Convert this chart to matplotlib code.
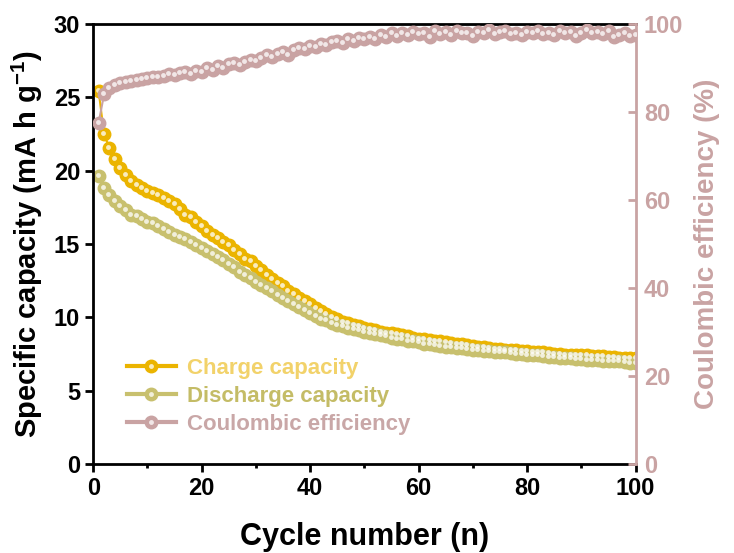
import numpy as np
import matplotlib
matplotlib.use('Agg')
import matplotlib.pyplot as plt
from matplotlib.lines import Line2D
from matplotlib.legend_handler import HandlerTuple
from matplotlib import transforms

plt.rcParams['font.family'] = 'Liberation Sans'
plt.rcParams['font.weight'] = 'bold'
plt.rcParams['mathtext.fontset'] = 'custom'
plt.rcParams['mathtext.rm'] = 'Liberation Sans:bold'
plt.rcParams['mathtext.bf'] = 'Liberation Sans:bold'
plt.rcParams['mathtext.default'] = 'bf'

#~~~~~~~~~DATA~~~~~~~~~#
cycles = np.arange(1, 101)

charge = [25.4, 22.5, 21.5, 20.8, 20.2, 19.7, 19.3, 19.0, 18.8, 18.6,
          18.5, 18.3, 18.1, 17.9, 17.7, 17.4, 17.0, 16.8, 16.5, 16.2,
          15.9, 15.6, 15.4, 15.1, 14.9, 14.6, 14.3, 14.0, 13.8, 13.5,
          13.2, 12.9, 12.6, 12.3, 12.1, 11.8, 11.6, 11.3, 11.1, 10.9,
          10.6, 10.4, 10.2, 10.0, 9.9, 9.7, 9.6, 9.5, 9.4, 9.3,
          9.2, 9.1, 9.0, 8.95, 8.9, 8.85, 8.8, 8.7, 8.6, 8.55,
          8.5, 8.45, 8.4, 8.35, 8.3, 8.25, 8.2, 8.15, 8.1, 8.05,
          8.0, 7.95, 7.9, 7.85, 7.85, 7.8, 7.8, 7.75, 7.7, 7.7,
          7.65, 7.6, 7.6, 7.55, 7.5, 7.5, 7.45, 7.45, 7.4, 7.4,
          7.4, 7.35, 7.35, 7.35, 7.3, 7.3, 7.25, 7.25, 7.2, 7.2]

discharge = [19.6, 18.8, 18.3, 17.9, 17.6, 17.3, 17.0, 16.9, 16.7, 16.5,
             16.4, 16.2, 16.0, 15.8, 15.6, 15.5, 15.3, 15.1, 14.9, 14.7,
             14.5, 14.3, 14.1, 13.9, 13.6, 13.4, 13.1, 12.9, 12.7, 12.4,
             12.2, 12.0, 11.8, 11.5, 11.3, 11.1, 10.9, 10.7, 10.5, 10.3,
             10.1, 9.9, 9.8, 9.6, 9.5, 9.4, 9.3, 9.2, 9.1, 9.0,
             8.9, 8.85, 8.8, 8.7, 8.6, 8.55, 8.5, 8.4, 8.35, 8.3,
             8.2, 8.15, 8.1, 8.05, 8.0, 7.95, 7.9, 7.9, 7.85, 7.8,
             7.75, 7.7, 7.7, 7.65, 7.6, 7.6, 7.55, 7.5, 7.5, 7.45,
             7.4, 7.4, 7.35, 7.3, 7.3, 7.25, 7.2, 7.2, 7.15, 7.15,
             7.1, 7.1, 7.1, 7.05, 7.05, 7.0, 7.0, 6.95, 6.9, 6.9]

efficiency = [77.5, 84.0, 85.5, 86.0, 86.5, 86.8, 87.0, 87.2, 87.5, 87.6,
              88.0, 87.8, 88.2, 88.5, 88.3, 88.8, 89.0, 88.6, 89.3, 89.0,
              90.0, 89.5, 90.3, 90.0, 90.8, 91.0, 90.6, 91.3, 91.8, 91.5,
              92.2, 92.8, 92.4, 93.2, 93.5, 93.0, 94.0, 94.5, 94.2, 95.0,
              94.8, 95.5, 95.2, 95.8, 96.2, 95.6, 96.5, 96.0, 96.8, 96.5,
              97.0, 96.6, 97.5, 96.9, 97.8, 97.2, 98.0, 97.4, 98.2, 97.6,
              97.9, 97.0, 98.3, 97.7, 98.1, 97.5, 98.4, 97.8, 98.0, 97.3,
              98.2, 97.9, 98.5, 97.6, 98.1, 98.3, 97.7, 98.0, 97.5, 98.2,
              97.8, 98.4, 97.6, 98.0, 97.4, 98.3, 97.9, 98.1, 97.2, 98.0,
              98.5, 97.8, 98.2, 97.6, 98.3, 97.0, 97.5, 97.9, 97.2, 97.4]

c_charge = '#EBB400'
c_discharge = '#C8C06E'
c_eff = '#C9A3A3'
t_charge = '#F2D26A'
t_discharge = '#C4BC66'
t_eff = '#C9A7A7'

#~~~~~~~~~PLOTTING~~~~~~~~~#
fig = plt.figure(figsize=(7.34, 5.53), dpi=100)
ax = fig.add_axes([0.127, 0.161, 0.739, 0.796])
ax2 = ax.twinx()


def balls(a, x, y, col):
    # coloured sphere with a small glossy highlight
    a.plot(x, y, '-', color=col, lw=1.5, marker='o', ms=9, mec=col, mfc=col, zorder=2)
    shift = transforms.offset_copy(a.transData, fig=fig, x=-1, y=1, units='dots')
    a.plot(x, y, ls='none', marker='o', ms=3.5, mfc='white', mec='none', alpha=0.75,
           transform=shift, zorder=3)


balls(ax, cycles, charge, c_charge)
balls(ax, cycles, discharge, c_discharge)
balls(ax2, cycles, efficiency, c_eff)

ax.set_xlim(0, 100)
ax.set_ylim(0, 30)
ax2.set_ylim(0, 100)
ax.set_xticks(np.arange(0, 101, 20))
ax.set_xticks(np.arange(10, 100, 20), minor=True)
ax.set_yticks(np.arange(0, 31, 5))
ax2.set_yticks(np.arange(0, 101, 20))

ax.tick_params(axis='both', which='major', direction='out', length=6, width=2,
               labelsize=17, color='black')
ax.tick_params(axis='x', which='minor', direction='out', length=3, width=2)
ax.tick_params(axis='y', right=False)
ax2.tick_params(axis='y', which='major', direction='in', length=6, width=2,
                labelsize=17, colors=c_eff, pad=6)

for s in ['left', 'bottom', 'top']:
    ax.spines[s].set_linewidth(2)
ax.spines['right'].set_visible(False)
for s in ['left', 'bottom', 'top']:
    ax2.spines[s].set_visible(False)
ax2.spines['right'].set_linewidth(2)
ax2.spines['right'].set_color(c_eff)

ax.set_xlabel('Cycle number (n)', fontsize=22, fontweight='bold', labelpad=16)
ax.set_ylabel(r'Specific capacity (mA h g$^{-1}$)', fontsize=21, fontweight='bold', labelpad=6)
ax2.set_ylabel('Coulombic efficiency (%)', fontsize=20, fontweight='bold', color=c_eff, labelpad=8)

# legend with glossy markers
def handle(col):
    return (Line2D([], [], color=col, lw=3, marker='o', ms=9, mfc=col, mec=col),
            Line2D([], [], ls='none', marker='o', ms=3.5, mfc='white', mec='none', alpha=0.75))

leg = ax2.legend([handle(c_charge), handle(c_discharge), handle(c_eff)],
                 ['Charge capacity', 'Discharge capacity', 'Coulombic efficiency'],
                 handler_map={tuple: HandlerTuple(ndivide=1)},
                 loc='lower left', bbox_to_anchor=(0.025, 0.02), frameon=False,
                 prop={'size': 16, 'weight': 'bold'}, handlelength=2.2,
                 handletextpad=0.5, labelspacing=0.32)
for txt, col in zip(leg.get_texts(), [t_charge, t_discharge, t_eff]):
    txt.set_color(col)

plt.savefig('out.png', dpi=100)
